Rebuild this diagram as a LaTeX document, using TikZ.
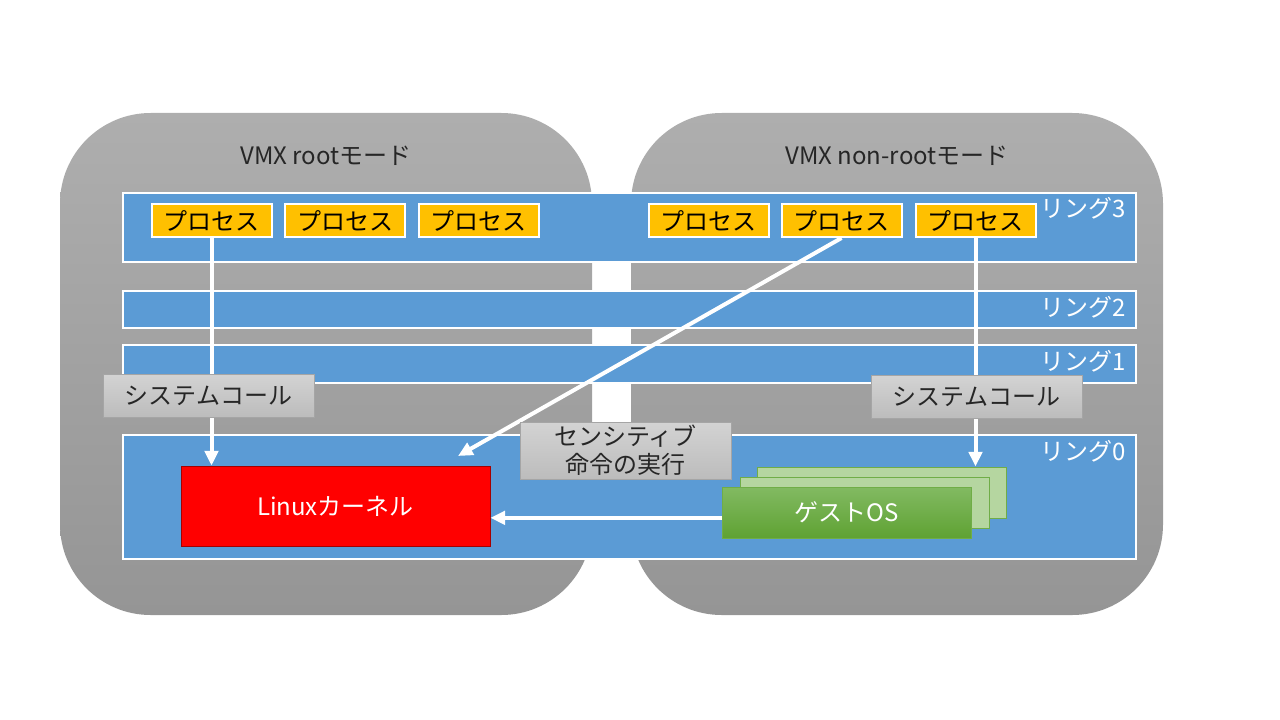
\documentclass[tikz,border=0pt]{standalone}
\usepackage{fontspec}
\setmainfont{Noto Sans CJK JP}
\usetikzlibrary{arrows.meta}
\definecolor{modetop}{HTML}{AEAEAE}
\definecolor{modebottom}{HTML}{959595}
\definecolor{ringblue}{HTML}{5B9BD5}
\definecolor{procorange}{HTML}{FFC000}
\definecolor{calltop}{HTML}{D3D3D3}
\definecolor{callbottom}{HTML}{BCBCBC}
\definecolor{callborder}{HTML}{A5A5A5}
\definecolor{guestlight}{HTML}{B5D6A0}
\definecolor{guesttop}{HTML}{82BA62}
\definecolor{guestbottom}{HTML}{5FA233}
\definecolor{guestborder}{HTML}{70AD47}
\definecolor{darktext}{HTML}{262626}
\begin{document}
\begin{tikzpicture}[x=0.75pt,y=-0.75pt,
    big/.style={font=\fontsize{18pt}{21pt}\selectfont},
    ring/.style={draw=white,line width=1.5pt,fill=ringblue,minimum width=759.75pt,inner sep=0},
    ringlabel/.style={big,text=white,anchor=base east,inner sep=0},
    proc/.style={big,draw=white,line width=1.5pt,fill=procorange,minimum width=90pt,minimum height=24.75pt,inner sep=0},
    callbox/.style={big,text=darktext,draw=callborder,line width=0.75pt,top color=calltop,bottom color=callbottom,minimum width=158.25pt,inner sep=0,align=center},
    guest/.style={draw=guestborder,line width=0.75pt,fill=guestlight,minimum width=186.75pt,minimum height=38.25pt},
    arrow/.style={draw=white,line width=3pt,-{Triangle[length=11pt,width=10pt]}}]
    \useasboundingbox (0,0) rectangle (1280,720);
    \shade[top color=modetop,bottom color=modebottom,rounded corners=68pt] (60,113) rectangle (592,615);
    \shade[top color=modetop,bottom color=modebottom,rounded corners=68pt] (631,113) rectangle (1163,615);
    \node[big,text=darktext,anchor=base] (root) at (326,165) {VMX rootモード};
    \node[big,text=darktext,anchor=base] (nonroot) at (897,165) {VMX non-rootモード};
    \foreach \n/\y/\h in {3/227.5/51.75pt,2/309.5/27.75pt,1/364/28.5pt,0/497/93pt} {
        \node[ring,minimum height=\h] (r\n) at (629.5,\y) {};
        \node[ringlabel] (l\n) at ([xshift=-8pt,yshift=-19.5pt]r\n.north east) {リング\n};
    }
    \foreach \n/\x in {1/211.5,2/345,3/478.5,4/708.5,5/841.5,6/975.5}
        \node[proc] (p\n) at (\x,220.5) {プロセス};
    \node[big,text=white,draw=red!65!black,line width=0.6pt,fill=red,minimum width=231.75pt,minimum height=60pt] (k) at (335.5,506) {Linuxカーネル};
    \node[guest] (g3) at (882,492.5) {};
    \node[guest] (g2) at (864.5,502.5) {};
    \node[guest,top color=guesttop,bottom color=guestbottom,text=white,big] (g1) at (846.5,512.5) {ゲストOS};
    \coordinate (hit) at (458,456);
    \draw[arrow] (p1.south) -- (p1.south |- k.north);
    \draw[arrow] (p5.south) -- (hit);
    \draw[arrow] (p6.south) -- (p6.south |- g3.north);
    \draw[arrow] ([yshift=-4pt]g1.west) -- ([yshift=-4pt]g1.west -| k.east);
    \node[callbox,minimum height=32.25pt] (c1) at (208.5,395.5) {システムコール};
    \node[callbox,minimum height=32.25pt] (c2) at (976.5,397) {システムコール};
    \node[callbox,minimum height=42.75pt] (s) at (625.5,450.5) {センシティブ\\命令の実行};
\end{tikzpicture}
\end{document}
